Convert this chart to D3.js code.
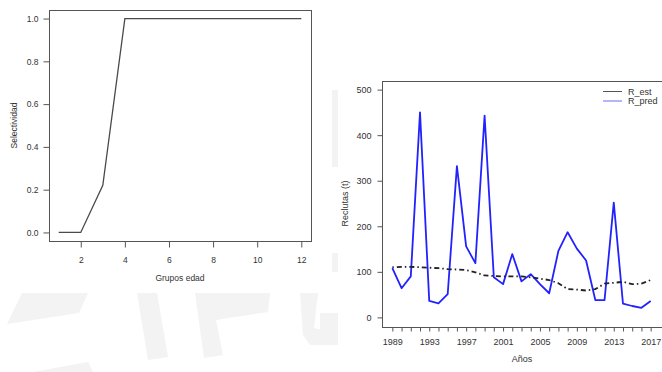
<!DOCTYPE html>
<html>
<head>
<meta charset="utf-8">
<script src="https://cdn.jsdelivr.net/npm/d3@7/dist/d3.min.js"></script>
<style>
  html, body { margin: 0; padding: 0; background: #ffffff; }
  svg { display: block; }
  text { font-family: "Liberation Sans", Arial, sans-serif; fill: #333; }
</style>
</head>
<body>
<svg id="chart" width="662" height="372"></svg>
<script>
// Selectivity by age group
const ageGroups = [1, 2, 3, 4, 5, 6, 7, 8, 9, 10, 11, 12];
const selectivity = [0, 0, 0.22, 1, 1, 1, 1, 1, 1, 1, 1, 1];
const ageTicks = [2, 4, 6, 8, 10, 12];
const selTicks = [0, 0.2, 0.4, 0.6, 0.8, 1.0];

// Recruitment by year
const years = [1989, 1990, 1991, 1992, 1993, 1994, 1995, 1996, 1997, 1998,
               1999, 2000, 2001, 2002, 2003, 2004, 2005, 2006, 2007, 2008,
               2009, 2010, 2011, 2012, 2013, 2014, 2015, 2016, 2017];
const rEst = [110, 111, 111, 110, 109, 108, 106, 105, 104, 99,
              92, 91, 90, 90, 90, 88, 85, 82, 75, 62,
              61, 59, 62, 74, 76, 78, 73, 74, 82];
const rPred = [108, 64, 90, 450, 36, 31, 51, 332, 156, 119,
               443, 88, 73, 139, 79, 95, 73, 53, 146, 187,
               151, 125, 38, 38, 252, 30, 25, 21, 36];
const yearLabels = [1989, 1993, 1997, 2001, 2005, 2009, 2013, 2017];
const recTicks = [0, 100, 200, 300, 400, 500];
const legendNames = ["R_est", "R_pred"];

const svg = d3.select("#chart");

// faint background watermark lettering
const wm = svg.append("g").attr("fill", "#f3f3f3");
const wmShapes = [
  [[22,293],[88,293],[79,313],[7,324]],
  [[33,372],[88,362],[93,372]],
  [[137,293],[157,293],[168,357],[148,360]],
  [[195,293],[270,293],[268,312],[216,320],[223,355],[204,358]],
  [[300,293],[318,293],[314,328],[330,332],[330,345],[310,345],[303,335]],
  [[332,90],[338,90],[338,167],[332,167]],
  [[332,253],[338,253],[338,272],[332,272]],
  [[320,313],[338,313],[338,345],[320,345]]
];
wm.selectAll("path").data(wmShapes).join("path")
  .attr("d", d => "M" + d.map(p => p.join(",")).join("L") + "Z");

// ---------- left panel: selectivity ----------
const L = { left: 49, right: 311, top: 10, bottom: 241 };
const xAge = d3.scaleLinear().domain([0.56, 12.44]).range([L.left, L.right]);
const ySel = d3.scaleLinear().domain([-0.04, 1.04]).range([L.bottom, L.top]);

const gl = svg.append("g");
gl.append("rect")
  .attr("x", L.left + 0.5).attr("y", L.top + 0.5)
  .attr("width", L.right - L.left).attr("height", L.bottom - L.top)
  .attr("fill", "none").attr("stroke", "#555").attr("stroke-width", 1);

const axL = gl.append("g").attr("transform", `translate(${L.left + 0.5},0)`)
  .call(d3.axisLeft(ySel).tickValues(selTicks).tickFormat(d3.format(".1f"))
        .tickSize(6).tickSizeOuter(0).tickPadding(5));
const axB = gl.append("g").attr("transform", `translate(0,${L.bottom + 0.5})`)
  .call(d3.axisBottom(xAge).tickValues(ageTicks).tickSize(6).tickSizeOuter(0).tickPadding(9));
[axL, axB].forEach(a => {
  a.select(".domain").remove();
  a.selectAll(".tick line").attr("stroke", "#555");
  a.selectAll(".tick text").attr("font-size", 8.5).attr("fill", "#333")
    .style("font-family", "'Liberation Sans', Arial, sans-serif");
});

gl.append("path")
  .datum(ageGroups.map((a, i) => [a, selectivity[i]]))
  .attr("fill", "none").attr("stroke", "#4a4a4a").attr("stroke-width", 1.3)
  .attr("d", d3.line().x(d => xAge(d[0])).y(d => ySel(d[1])));

gl.append("text").attr("x", (L.left + L.right) / 2).attr("y", 280.5)
  .attr("text-anchor", "middle").attr("font-size", 8.5).text("Grupos edad");
gl.append("text")
  .attr("transform", `translate(16.5,${(L.top + L.bottom) / 2}) rotate(-90)`)
  .attr("text-anchor", "middle").attr("font-size", 8.5).text("Selectividad");

// ---------- right panel: recruitment ----------
const R = { left: 382, right: 661, top: 80.5, bottom: 326.5 };
const xYear = d3.scaleLinear().domain([1987.88, 2018.12]).range([R.left, R.right]);
const yRec = d3.scaleLinear().domain([-20, 520]).range([R.bottom, R.top]);

const gr = svg.append("g");
gr.append("rect")
  .attr("x", R.left + 0.5).attr("y", Math.round(R.top) + 0.5)
  .attr("width", 300).attr("height", Math.round(R.bottom) - Math.round(R.top))
  .attr("fill", "none").attr("stroke", "#555").attr("stroke-width", 1);

const axRL = gr.append("g").attr("transform", `translate(${R.left + 0.5},0)`)
  .call(d3.axisLeft(yRec).tickValues(recTicks).tickSize(5).tickSizeOuter(0).tickPadding(6));
const axRB = gr.append("g").attr("transform", `translate(0,${Math.round(R.bottom) + 0.5})`)
  .call(d3.axisBottom(xYear).tickValues(years)
        .tickFormat(d => yearLabels.includes(d) ? d : "")
        .tickSize(4).tickSizeOuter(0).tickPadding(7));
[axRL, axRB].forEach(a => {
  a.select(".domain").remove();
  a.selectAll(".tick line").attr("stroke", "#555");
  a.selectAll(".tick text").attr("font-size", 9).attr("fill", "#333")
    .style("font-family", "'Liberation Sans', Arial, sans-serif");
});

const lineYear = d3.line().x(d => xYear(d[0])).y(d => yRec(d[1]));

gr.append("path")
  .datum(years.map((y, i) => [y, rPred[i]]))
  .attr("fill", "none").attr("stroke", "#2222ff").attr("stroke-width", 1.8)
  .attr("stroke-linejoin", "round")
  .attr("d", lineYear);

gr.append("path")
  .datum(years.map((y, i) => [y, rEst[i]]))
  .attr("fill", "none").attr("stroke", "#222").attr("stroke-width", 1.8)
  .attr("stroke-dasharray", "1.5,3,5,3")
  .attr("d", lineYear);

gr.append("text").attr("x", 522).attr("y", 362)
  .attr("text-anchor", "middle").attr("font-size", 9).text("Años");
gr.append("text")
  .attr("transform", `translate(347.5,${(R.top + R.bottom) / 2}) rotate(-90)`)
  .attr("text-anchor", "middle").attr("font-size", 9).text("Reclutas (t)");

// legend
const legColors = ["#555", "#6a6aff"];
const leg = gr.append("g").attr("transform", "translate(603,91)");
legendNames.forEach((name, i) => {
  const gi = leg.append("g").attr("transform", `translate(0,${i * 9.5})`);
  gi.append("line").attr("x1", 0).attr("x2", 19).attr("y1", 0.5).attr("y2", 0.5)
    .attr("stroke", legColors[i]).attr("stroke-width", 1);
  gi.append("text").attr("x", 25).attr("y", 3.5).attr("font-size", 9).text(name);
});
</script>
</body>
</html>
